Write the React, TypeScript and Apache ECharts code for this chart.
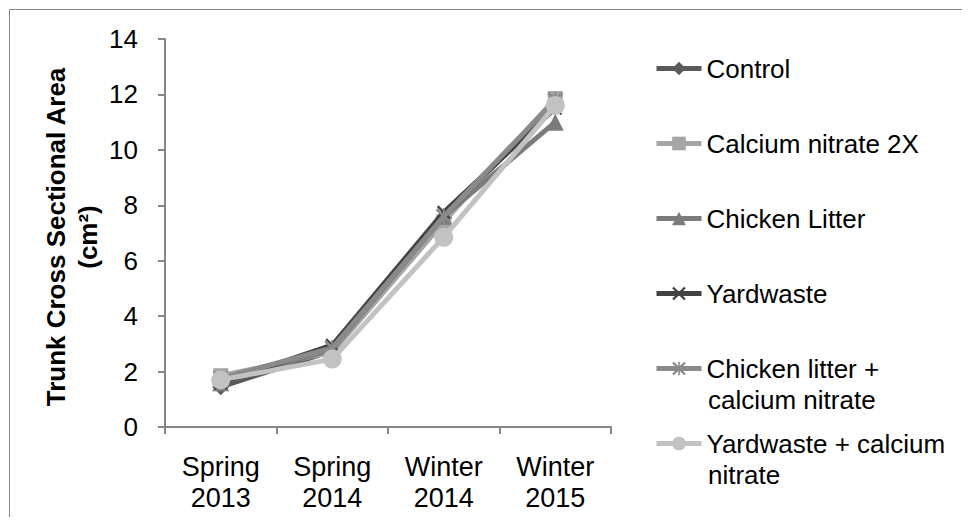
import React, { useEffect, useRef } from "react";
import * as echarts from "echarts";

// Sampling dates (x categories)
const periods = ["Spring\n2013", "Spring\n2014", "Winter\n2014", "Winter\n2015"];

// Treatments, as written in the legend (one entry per legend line)
const legendLines: string[][] = [
  ["Control"],
  ["Calcium nitrate 2X"],
  ["Chicken Litter"],
  ["Yardwaste"],
  ["Chicken litter +", "calcium nitrate"],
  ["Yardwaste + calcium", "nitrate"],
];

// Trunk cross sectional area (cm²) per treatment
const control = [1.45, 2.75, 7.55, 11.75];
const calciumNitrate2X = [1.85, 2.7, 7.4, 11.85];
const chickenLitter = [1.6, 2.8, 7.6, 11.0];
const yardwaste = [1.6, 2.95, 7.75, 11.5];
const chickenLitterCalciumNitrate = [1.75, 2.85, 7.6, 11.8];
const yardwasteCalciumNitrate = [1.7, 2.45, 6.85, 11.6];

const yTicks = { min: 0, max: 14, interval: 2 };

const FONT = "'Liberation Sans', Arial, sans-serif";

// Marker glyphs
const X_PATH =
  "path://M0,1.2L1.2,0L5,3.8L8.8,0L10,1.2L6.2,5L10,8.8L8.8,10L5,6.2L1.2,10L0,8.8L3.8,5Z";
const STAR_PATH =
  "path://M0,1.2L1.2,0L5,3.8L8.8,0L10,1.2L6.2,5L10,8.8L8.8,10L5,6.2L1.2,10L0,8.8L3.8,5Z M4.4,0L5.6,0L5.6,10L4.4,10Z";

const seriesData = [
  control,
  calciumNitrate2X,
  chickenLitter,
  yardwaste,
  chickenLitterCalciumNitrate,
  yardwasteCalciumNitrate,
];
const colors = ["#5a5a5a", "#a5a5a5", "#7b7b7b", "#434343", "#8a8a8a", "#c2c2c2"];
const symbols = ["diamond", "rect", "triangle", X_PATH, STAR_PATH, "circle"];
const symbolSizes = [17, 15, 17, 14, 16, 19];

export default function App() {
  const ref = useRef<HTMLDivElement>(null);

  useEffect(() => {
    if (!ref.current) return;
    const chart = echarts.init(ref.current, null, { renderer: "svg" });

    const names = legendLines.map((l) => l.join(" "));
    const legendLeft = 646;
    const legendTop = 45;
    const itemWidth = 45;
    const rowStep = 75;
    const lineH = 31;

    // continuation lines of the wrapped legend entries
    const extraLines: any[] = [];
    legendLines.forEach((lines, i) => {
      lines.slice(1).forEach((txt, j) => {
        extraLines.push({
          type: "text",
          x: legendLeft + itemWidth + 9,
          y: legendTop + i * rowStep + lineH / 2 + (j + 1) * lineH,
          style: {
            text: txt,
            fontFamily: FONT,
            fontSize: 26,
            fill: "#000",
            verticalAlign: "middle",
            align: "left",
          },
        });
      });
    });

    chart.setOption({
      animation: false,
      backgroundColor: "#fff",
      grid: { left: 157, top: 31, width: 446, height: 388, containLabel: false },
      xAxis: {
        type: "category",
        data: periods,
        boundaryGap: true,
        axisLine: { lineStyle: { color: "#868686", width: 2 } },
        axisTick: { show: true, length: 7, alignWithLabel: false, lineStyle: { color: "#868686", width: 2 } },
        axisLabel: {
          fontFamily: FONT,
          fontSize: 27,
          lineHeight: 31,
          color: "#000",
          margin: 24,
          interval: 0,
        },
        splitLine: { show: false },
      },
      yAxis: {
        type: "value",
        min: yTicks.min,
        max: yTicks.max,
        interval: yTicks.interval,
        name: "Trunk Cross Sectional Area\n(cm²)",
        nameLocation: "middle",
        nameGap: 61,
        nameTextStyle: {
          fontFamily: FONT,
          fontSize: 26,
          fontWeight: "bold",
          lineHeight: 32,
          color: "#000",
          padding: [0, 8, 0, 0],
        },
        axisLine: { show: true, lineStyle: { color: "#868686", width: 2 } },
        axisTick: { show: true, inside: false, length: 7, lineStyle: { color: "#868686", width: 2 } },
        axisLabel: { fontFamily: FONT, fontSize: 26, color: "#000", margin: 27 },
        splitLine: { show: false },
      },
      legend: {
        orient: "vertical",
        left: legendLeft,
        top: legendTop,
        padding: 0,
        itemWidth,
        itemHeight: 17,
        itemGap: rowStep - lineH,
        data: names,
        formatter: (name: string) => legendLines[names.indexOf(name)][0],
        textStyle: { fontFamily: FONT, fontSize: 26, lineHeight: lineH, color: "#000" },
        lineStyle: { width: 5 },
        selectedMode: false,
      },
      graphic: [
        {
          type: "rect",
          shape: { x: 1.5, y: 1.5, width: 2000, height: 2000 },
          style: { fill: "none", stroke: "#868686", lineWidth: 1 },
          silent: true,
        },
        ...extraLines,
      ],
      series: seriesData.map((d, i) => ({
        name: names[i],
        type: "line",
        data: d,
        symbol: symbols[i],
        symbolSize: symbolSizes[i],
        showAllSymbol: true,
        lineStyle: { color: colors[i], width: 5 },
        itemStyle: { color: colors[i] },
        z: 2 + i,
      })),
    });

    return () => chart.dispose();
  }, []);

  return <div ref={ref} style={{ width: 954, height: 509 }} />;
}
